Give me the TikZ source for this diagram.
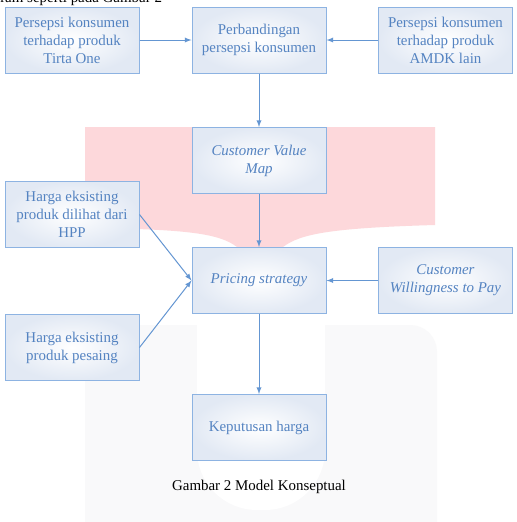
\documentclass[tikz,border=0pt]{standalone}
\usepackage{fontspec}
\setmainfont{Liberation Serif}
\usepackage{xcolor}
\usepackage{tikz}
\usetikzlibrary{positioning,shapes,calc,arrows}
\definecolor{boxline}{RGB}{141,179,226}
\definecolor{boxtext}{RGB}{84,131,193}
\definecolor{boxfill}{RGB}{226,233,244}
\definecolor{arrowblue}{RGB}{100,150,210}
\definecolor{wmpink}{RGB}{253,216,219}
\definecolor{wmgray}{RGB}{249,249,250}
\tikzset{
  konsep/.style={rectangle,draw=boxline,line width=0.75pt,
    inner color=white,outer color=boxfill,text=boxtext,
    minimum width=100.5pt,minimum height=49.5pt,align=center,
    font=\fontsize{11.2}{13.5}\selectfont}}

\begin{document}
\begin{tikzpicture}[x=0.75pt,y=-0.75pt]
        \useasboundingbox (0,0) rectangle (517,522);
        \fill[white] (0,0) rectangle (517,522);
        \fill[wmgray,rounded corners=20pt] (85,325) rectangle (437,570);
        \fill[white,rounded corners=45pt] (197,150) rectangle (325,510);
        \fill[wmpink] (85,127) -- (435,127) -- (435,225)
            .. controls (330,228) and (300,234) .. (283,247) -- (237,247)
            .. controls (220,234) and (190,229) .. (85,228) -- cycle;
        \node[anchor=base west,inner sep=0pt,font=\fontsize{11.2}{13.5}\selectfont] (top) at (0,2.5) {ram seperti pada Gambar 2};
        \begin{scope}[every node/.style={konsep}]
            \node (a) at (72,40) {Persepsi konsumen\\terhadap produk\\Tirta One};
            \node (b) at (259,40) {Perbandingan\\persepsi konsumen};
            \node (c) at (445.5,40) {Persepsi konsumen\\terhadap produk\\AMDK lain};
            \node (d) at (259,160.5) {\itshape Customer Value\\\itshape Map};
            \node (e) at (72,214.5) {Harga eksisting\\produk dilihat dari\\HPP};
            \node (f) at (259,280.5) {\itshape Pricing strategy};
            \node (h) at (445.5,280.5) {\itshape Customer\\\itshape Willingness to Pay};
            \node (g) at (72,347.5) {Harga eksisting\\produk pesaing};
            \node (i) at (259,427.5) {Keputusan harga};
        \end{scope}
        \begin{scope}[every edge/.style={draw=arrowblue,line width=0.75pt}]
            \path [-latex] (a) edge (b);
            \path [-latex] (c) edge (b);
            \path [-latex] (b) edge (d);
            \path [-latex] (d) edge (f);
            \path [-latex] (e.east) edge (f.west);
            \path [-latex] (g.east) edge (f.west);
            \path [-latex] (h) edge (f);
            \path [-latex] (f) edge (i);
        \end{scope}
        \node[font=\fontsize{11.2}{13.5}\selectfont] (cap) at (259,487) {Gambar 2 Model Konseptual};
    \end{tikzpicture}
\end{document}
